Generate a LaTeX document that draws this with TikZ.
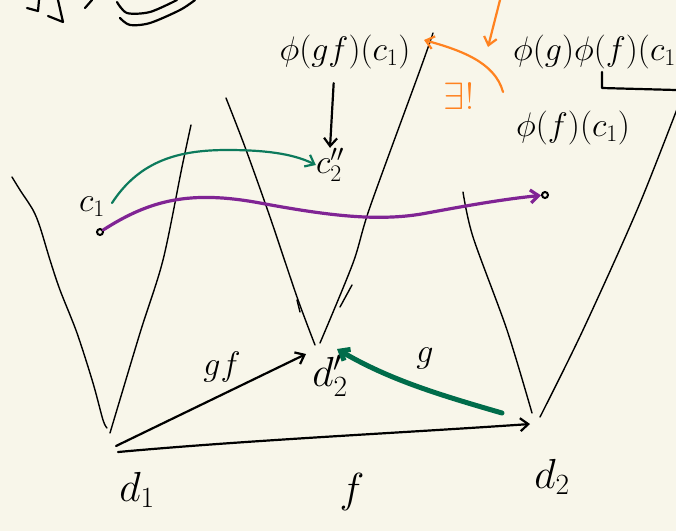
\documentclass[tikz,border=0pt]{standalone}
\usepackage{fix-cm}
\usepackage{xcolor}
\usetikzlibrary{arrows.meta}
\definecolor{paper}{RGB}{248,246,234}
\definecolor{penGreen}{RGB}{12,122,92}
\definecolor{penDark}{RGB}{0,108,74}
\definecolor{penPurple}{RGB}{128,36,148}
\definecolor{penOrange}{RGB}{255,130,32}
\begin{document}
\begin{tikzpicture}[x=1pt, y=-1pt, >={Straight Barb[length=8pt,width=13pt]},
  cone/.style={line width=1.4pt, line cap=round},
  ink/.style={line width=2.2pt, line cap=round, line join=round},
  lbl/.style={font=\fontsize{34}{38}\selectfont, inner sep=0pt},
  big/.style={font=\fontsize{42}{46}\selectfont, inner sep=0pt},
  pt/.style={circle, draw, line width=2pt, minimum width=6pt, inner sep=0pt}]
% paper
\fill[paper] (0,0) rectangle (676,531);
\clip (0,0) rectangle (676,531);
% leftover strokes at the top
\draw[ink] (27,8) -- (38,11) -- (39,0);
\draw[ink] (58,0) -- (63,22) -- (48,16);
\draw[ink] (85,8) -- (92,0);
\draw[ink] plot[smooth] coordinates {(117,2) (127,13) (150,12) (177,0)};
\draw[ink] plot[smooth] coordinates {(120,18) (130,25) (150,23) (180,10) (195,0)};
% cone over d_1
\draw[cone] plot[smooth] coordinates {(12,177) (20,190) (33,210) (40,227) (50,260) (60,290) (77,333) (93,383) (103,420) (107,428)};
\draw[cone] plot[smooth] coordinates {(191,125) (182,167) (163,260) (140,333) (110,433)};
% cone over d_2'
\draw[cone] plot[smooth] coordinates {(226,98) (245,147) (270,217) (297,297) (315,345)};
\draw[cone] plot[smooth] coordinates {(433,33) (420,70) (370,207) (353,263) (320,343)};
\draw[cone] (297,300) -- (300,312);
\draw[cone] (352,285) -- (340,307);
% cone over d_2
\draw[cone] plot[smooth] coordinates {(463,192) (473,237) (507,330) (532,413)};
\draw[cone] plot[smooth] coordinates {(692,70) (640,203) (583,330) (540,417)};
% base objects
\node[big] (d1) at (137,490) {$d_1$};
\node[big] (d2p) at (330,376) {$d'_2$};
\node[big] (d2) at (552,477) {$d_2$};
\coordinate (f0) at (118,452);
\coordinate (f1) at (530,424);
\coordinate (h0) at (116,446);
\coordinate (h1) at (306,354);
\coordinate (g0) at (502,413);
\coordinate (g1) at (337,349);
\draw[ink, ->] (f0) .. controls (250,440) and (400,433) .. (f1);
\draw[ink, ->] (h0) -- (h1);
\draw[line width=5pt, line cap=round, penDark, ->] (g0) .. controls (440,395) and (390,380) .. (g1);
\node[lbl] (gf) at (222,367) {$gf$};
\node[lbl] (g) at (425,358) {$g$};
\node[big] (f) at (352,492) {$f$};
% fibres
\node[lbl] (c1) at (92,207) {$c_1$};
\node[pt] (c1dot) at (100,232) {};
\node[lbl] (c2) at (330,165) {$c''_2$};
\node[pt] (tdot) at (545,195) {};
\draw[ink, penGreen, ->] (112,203) .. controls (140,160) and (180,150) .. (227,150)
  .. controls (262,150) and (292,153) .. (c2.west);
\draw[line width=3.2pt, line cap=round, penPurple, ->] (c1dot) .. controls (150,200) and (190,190) .. (260,203)
  .. controls (330,216) and (380,222) .. (427,213) .. controls (470,205) and (505,199) .. (tdot);
% images
\node[lbl] (phigf) at (345,52) {$\phi(gf)(c_1)$};
\node[lbl] (phif) at (573,128) {$\phi(f)(c_1)$};
\node[lbl, anchor=west] (phigphif) at (513,52) {$\phi(g)\phi(f)(c_1)$};
\draw[ink, ->, shorten <=6pt] (phigf.south -| c2.north) ++(4,8) coordinate (q0) -- (c2.north);
\draw[ink] (602,72) -- (602,88) -- (676,90);
% unique arrow
\node[font=\fontsize{38}{42}\selectfont, inner sep=0pt, penOrange] (ex) at (459,96) {$\exists!$};
\coordinate (o0) at (500,0);
\coordinate (o1) at (488,47);
\draw[ink, penOrange, ->] (o0) -- (o1);
\coordinate (o2) at (503,92);
\coordinate (o3) at (424,40);
\draw[ink, penOrange, ->] (o2) .. controls (495,62) and (460,50) .. (o3);
\end{tikzpicture}
\end{document}
